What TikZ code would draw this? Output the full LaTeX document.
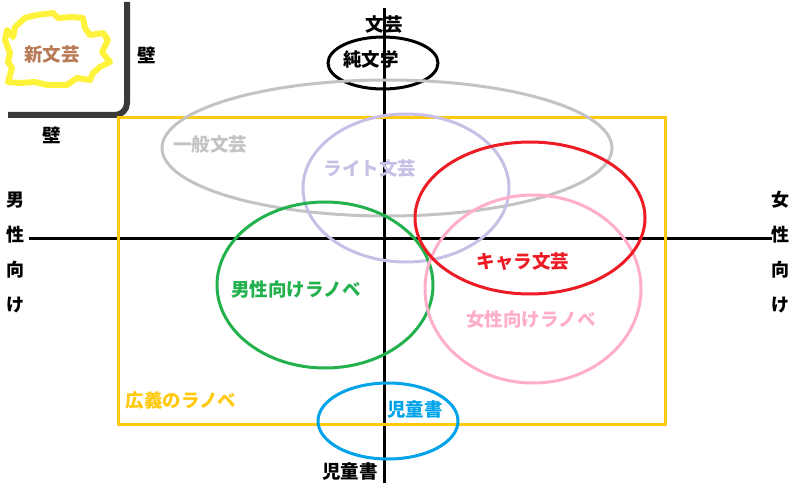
\documentclass[tikz,border=0pt]{standalone}
\usepackage{fontspec}
\setmainfont{Noto Sans CJK JP}
\definecolor{wallgray}{HTML}{3A3A3A}
\definecolor{blobyellow}{HTML}{FFF23A}
\definecolor{newbrown}{HTML}{B97A57}
\definecolor{genegray}{HTML}{C3C3C3}
\definecolor{lightlav}{HTML}{C8BFE7}
\definecolor{charared}{HTML}{ED1C24}
\definecolor{girlpink}{HTML}{FFAEC9}
\definecolor{boygreen}{HTML}{22B14C}
\definecolor{kidblue}{HTML}{00A2E8}
\definecolor{ranobegold}{HTML}{FFC90E}
\begin{document}
\begin{tikzpicture}[x=1pt,y=-1pt,line width=3pt,
    lbl/.style={font=\fontsize{18.5}{20}\selectfont\bfseries,inner sep=0pt},
    side/.style={font=\fontsize{18}{35}\selectfont\bfseries,inner sep=0pt,align=center}]
  \useasboundingbox (0,0) rectangle (800,500);
  % wall and the new genre behind it
  \draw[line width=6pt,wallgray,rounded corners=12pt] (127,2) -- (127,115) -- (8,115);
  \draw[line width=6pt,blobyellow,line join=round] (7,30) -- (13,37) -- (15,27) -- (25,18) -- (37,15) -- (53,13) -- (58,18) -- (72,17) -- (83,18) -- (85,28) -- (90,35) -- (103,33) -- (108,40) -- (102,52) -- (110,62) -- (100,67) -- (93,73) -- (90,80) -- (77,78) -- (67,85) -- (47,85) -- (35,82) -- (20,83) -- (8,82) -- (12,68) -- (8,62) -- (10,53) -- (5,40) -- cycle;
  \node[lbl,newbrown] (shin) at (52,55) {新文芸};
  \node[lbl] (wallr) at (147,55) {壁};
  \node[lbl] (wallb) at (52,135) {壁};
  % axes
  \draw (384,8) -- (384,483);
  \draw (29,238) -- (772,238);
  \node[lbl] (top) at (384,25) {文芸};
  \node[lbl] (bottom) at (350,472) {児童書};
  \node[side] (male) at (15,252) {男\\性\\向\\け};
  \node[side] (female) at (780,252) {女\\性\\向\\け};
  % genres
  \draw[ranobegold] (118,118) rectangle (665,424);
  \node[lbl,ranobegold] (wide) at (181,400) {広義のラノベ};
  \draw (383,63) ellipse (55 and 26);
  \node[lbl] (junbun) at (371,59) {純文学};
  \draw[genegray] (387,148) ellipse (225 and 68);
  \node[lbl,genegray] (ippan) at (210,145) {一般文芸};
  \draw[lightlav] (406,188) ellipse (103 and 74);
  \node[lbl,lightlav] (light) at (370,169) {ライト文芸};
  \draw[boygreen] (325,285) ellipse (108 and 83);
  \node[lbl,boygreen] (boys) at (296,289) {男性向けラノベ};
  \draw[girlpink] (533,289) ellipse (108 and 94);
  \node[lbl,girlpink] (girls) at (531,320) {女性向けラノベ};
  \draw[charared] (530,218) ellipse (115 and 76);
  \node[lbl,charared] (chara) at (523,262) {キャラ文芸};
  \draw[kidblue] (388,421) ellipse (70 and 38);
  \node[lbl,kidblue] (kids) at (415,410) {児童書};
\end{tikzpicture}
\end{document}
